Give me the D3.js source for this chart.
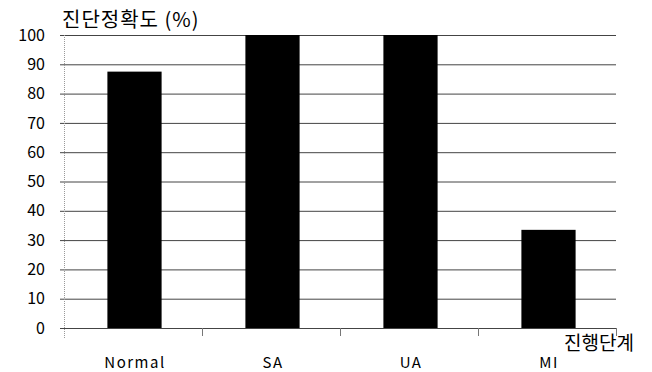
<!DOCTYPE html>
<html><head><meta charset="utf-8">
<script src="https://cdn.jsdelivr.net/npm/d3@7"></script>
<style>body{margin:0;background:#fff}svg{display:block}</style>
</head><body>
<script>
const categories = ["Normal", "SA", "UA", "MI"];
const values = [87.5, 100, 100, 33.5];
const yTicks = [0, 10, 20, 30, 40, 50, 60, 70, 80, 90, 100];
const yTitle = "진단정확도 (%)";
const xTitle = "진행단계";

const W = 652, H = 372;
const m = {left: 64, right: 36, top: 35, bottom: 44};
const svg = d3.select("body").append("svg").attr("width", W).attr("height", H);
const x = d3.scaleBand().domain(categories).range([m.left, W - m.right]).paddingInner(0.6).paddingOuter(0.3);
const y = d3.scaleLinear().domain([0, 100]).range([H - m.bottom, m.top]);
const font = "'Noto Sans CJK KR', 'Noto Sans', sans-serif";

// gridlines
svg.append("g").selectAll("line").data(yTicks).join("line")
  .attr("x1", m.left - 4).attr("x2", W - m.right)
  .attr("y1", d => y(d) + 0.5).attr("y2", d => y(d) + 0.5)
  .attr("stroke", "#444").attr("stroke-width", 1);

// y axis line
svg.append("line").attr("x1", m.left + 0.5).attr("x2", m.left + 0.5)
  .attr("y1", y(100)).attr("y2", y(0) + 10)
  .attr("stroke", "#999").attr("stroke-dasharray", "1,1");

// bars
svg.append("g").selectAll("rect").data(categories).join("rect")
  .attr("x", d => x(d) + 2).attr("width", x.bandwidth() - 1)
  .attr("y", (d, i) => y(values[i])).attr("height", (d, i) => y(0) - y(values[i]))
  .attr("fill", "#000");

// x ticks at band boundaries
const step = x.step();
const bounds = categories.map(c => x(c) + x.bandwidth() / 2 + step / 2);
svg.append("g").selectAll("line").data(bounds).join("line")
  .attr("x1", d => Math.round(d) + 0.5).attr("x2", d => Math.round(d) + 0.5)
  .attr("y1", y(0)).attr("y2", y(0) + 8)
  .attr("stroke", "#777");

// y tick labels
svg.append("g").selectAll("text").data(yTicks).join("text")
  .attr("x", 45).attr("y", d => y(d)).attr("dy", "0.35em")
  .attr("text-anchor", "end").attr("font-family", font).attr("font-size", 16)
  .attr("fill", "#000").text(d => d);

// x labels
svg.append("g").selectAll("text").data(categories).join("text")
  .attr("x", d => x(d) + x.bandwidth() / 2 + 2).attr("y", 368)
  .attr("text-anchor", "middle").attr("font-family", font).attr("font-size", 15)
  .attr("letter-spacing", 1.5)
  .attr("fill", "#000").text(d => d);

// titles
svg.append("text").attr("x", 62).attr("y", 27).attr("font-family", font)
  .attr("font-size", 20).attr("letter-spacing", 1).attr("fill", "#000").text(yTitle);
svg.append("text").attr("x", 634).attr("y", 350).attr("text-anchor", "end").attr("font-family", font)
  .attr("font-size", 19).attr("fill", "#000").text(xTitle);
</script>
</body></html>
